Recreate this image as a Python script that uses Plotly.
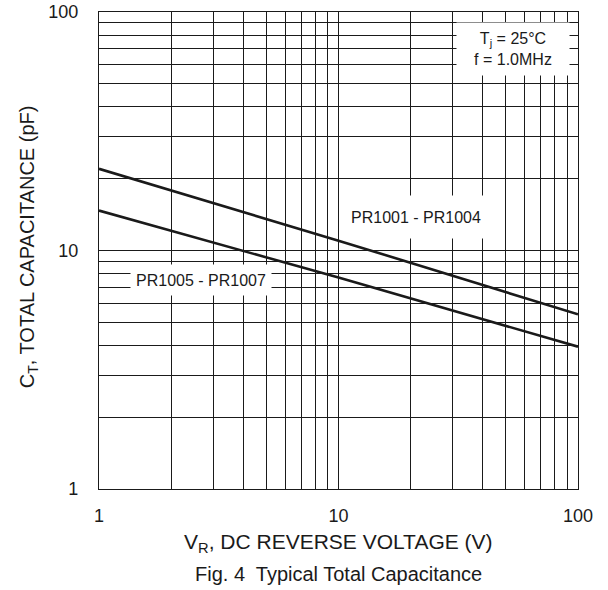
import plotly.graph_objects as go

# Data (log-log straight lines)
vr = [1, 10, 100]
ct_pr1001_1004 = [22.0, 11.0, 5.4]
ct_pr1005_1007 = [14.7, 7.7, 3.95]

# Grid / tick values
grid_vals = [1, 2, 3, 4, 5, 6, 7, 8, 9, 10, 20, 30, 40, 50, 60, 70, 80, 90, 100]
tick_labels = {1: "1", 10: "10", 100: "100"}
tick_text = [tick_labels.get(v, "") for v in grid_vals]

FONT = "Liberation Sans, Arial, sans-serif"
INK = "#1a1a1a"

fig = go.Figure()
for ys in (ct_pr1001_1004, ct_pr1005_1007):
    fig.add_trace(go.Scatter(x=vr, y=ys, mode="lines",
                             line=dict(color=INK, width=2.6),
                             showlegend=False, hoverinfo="skip"))

axis_common = dict(
    type="log",
    tickvals=grid_vals,
    ticktext=tick_text,
    showgrid=True, gridcolor=INK, gridwidth=1,
    showline=True, linecolor=INK, linewidth=1.2, mirror=True,
    ticks="", zeroline=False, automargin=False,
    tickfont=dict(family=FONT, size=18, color=INK),
)

fig.update_xaxes(range=[0, 2], ticklabelstandoff=10, **axis_common)
fig.update_yaxes(range=[0, 2], ticklabelstandoff=16, **axis_common)

ann_font = dict(family=FONT, size=16, color=INK)

fig.add_annotation(x=1.729, y=1.845, xref="x", yref="y",
                   text="T<sub>j</sub> = 25°C<br>f = 1.0MHz",
                   showarrow=False, font=ann_font, bgcolor="white",
                   width=110, height=50, align="center")
fig.add_annotation(x=1.324, y=1.140, xref="x", yref="y",
                   text="PR1001 - PR1004", showarrow=False, font=ann_font,
                   bgcolor="white", width=140, height=40)
fig.add_annotation(x=0.426, y=0.876, xref="x", yref="y",
                   text="PR1005 - PR1007", showarrow=False, font=ann_font,
                   bgcolor="white", width=138, height=28)

fig.add_annotation(x=0.5, y=-0.113, xref="paper", yref="paper",
                   text="V<sub>R</sub>, DC REVERSE VOLTAGE (V)",
                   showarrow=False, font=dict(family=FONT, size=21, color=INK),
                   yanchor="middle")
fig.add_annotation(x=0.5, y=-0.178, xref="paper", yref="paper",
                   text="Fig. 4  Typical Total Capacitance",
                   showarrow=False, font=dict(family=FONT, size=20, color=INK),
                   yanchor="middle")
fig.add_annotation(x=-0.148, y=0.507, xref="paper", yref="paper",
                   text="C<sub>T</sub>, TOTAL CAPACITANCE (pF)",
                   showarrow=False, font=dict(family=FONT, size=20, color=INK),
                   textangle=-90, xanchor="center", yanchor="middle")

fig.update_layout(
    width=608, height=590,
    margin=dict(l=99, r=30, t=12, b=101),
    paper_bgcolor="white", plot_bgcolor="white",
    showlegend=False,
)

fig.write_html(
    "out.html",
    config={"displayModeBar": False},
    post_script=(
        "document.body.style.margin='0';"
        "document.body.style.overflow='hidden';"
    ),
)
